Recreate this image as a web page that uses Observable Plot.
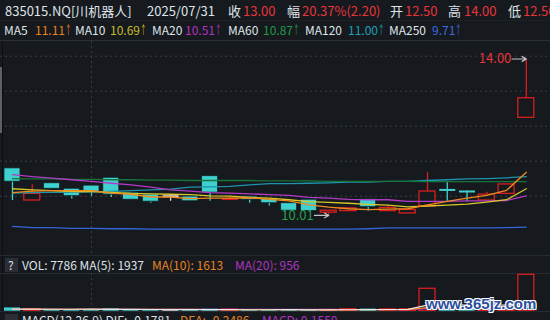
<!DOCTYPE html>
<html><head><meta charset="utf-8">
<script src="https://cdn.jsdelivr.net/npm/d3@7"></script>
<script src="https://cdn.jsdelivr.net/npm/@observablehq/plot@0.6"></script>
<style>
html,body{margin:0;padding:0;background:#161a1f;overflow:hidden}
#root{position:relative;width:550px;height:320px;background:#161a1f;font-family:"Noto Sans CJK SC","Noto Sans",sans-serif;overflow:hidden;color:#dfe3e8}
.t{position:absolute;white-space:nowrap;line-height:1}
.pane{position:absolute;left:0}
.arr{display:inline-block;width:5px;overflow:visible;transform:scaleX(0.55);transform-origin:left center}
svg{display:block}
</style></head>
<body><div id="root"></div>
<script>
// ---------- data ----------
const code = "835015.NQ[川机器人]";
const dates = ["2025/06/25","2025/06/26","2025/06/27","2025/06/30","2025/07/01","2025/07/02","2025/07/03","2025/07/04","2025/07/07","2025/07/08","2025/07/09","2025/07/10","2025/07/11","2025/07/14","2025/07/15","2025/07/16","2025/07/17","2025/07/18","2025/07/21","2025/07/22","2025/07/23","2025/07/24","2025/07/25","2025/07/28","2025/07/29","2025/07/30","2025/07/31"];
const open  = [11.21,10.39,10.83,10.69,10.77,10.97,10.59,10.54,10.50,10.49,11.01,10.39,10.49,10.43,10.32,10.41,10.08,10.12,10.42,10.12,10.06,10.24,10.67,10.63,10.39,10.56,12.50];
const high  = [11.21,10.79,10.83,10.69,10.77,10.97,10.59,10.54,10.50,10.49,11.01,10.49,10.49,10.43,10.32,10.41,10.13,10.19,10.42,10.26,10.15,11.10,10.87,10.63,10.60,10.80,14.00];
const low   = [10.39,10.39,10.69,10.43,10.50,10.47,10.41,10.32,10.37,10.37,10.37,10.39,10.32,10.25,10.13,10.12,10.01,10.12,10.12,10.12,10.06,10.24,10.37,10.35,10.39,10.56,12.50];
const close = [10.87,10.56,10.69,10.50,10.60,10.54,10.41,10.36,10.50,10.37,10.59,10.43,10.41,10.32,10.13,10.12,10.13,10.19,10.22,10.20,10.15,10.62,10.66,10.62,10.54,10.80,13.00];
const volume = [700,450,380,350,300,520,330,320,250,280,420,330,260,280,290,300,260,420,450,380,404,4791,650,420,380,449,7786];
const ma5   = [10.59,10.63,10.64,10.64,10.64,10.58,10.55,10.48,10.48,10.44,10.45,10.45,10.46,10.42,10.38,10.28,10.22,10.18,10.16,10.17,10.18,10.28,10.37,10.45,10.52,10.65,11.11];
const ma10  = [10.69,10.66,10.64,10.62,10.62,10.60,10.57,10.56,10.55,10.54,10.51,10.50,10.47,10.45,10.41,10.36,10.34,10.32,10.29,10.27,10.23,10.25,10.27,10.30,10.35,10.41,10.69];
const ma20  = [11.05,11.00,10.96,10.92,10.88,10.83,10.79,10.73,10.66,10.63,10.59,10.58,10.56,10.54,10.52,10.47,10.45,10.42,10.41,10.41,10.37,10.37,10.37,10.38,10.38,10.39,10.51];
const ma60  = [10.95,10.94,10.94,10.93,10.93,10.92,10.92,10.91,10.91,10.90,10.90,10.90,10.90,10.89,10.89,10.89,10.88,10.88,10.88,10.88,10.88,10.87,10.87,10.87,10.87,10.87,10.87];
const ma120 = [10.58,10.59,10.60,10.60,10.61,10.62,10.64,10.66,10.68,10.73,10.74,10.75,10.79,10.82,10.82,10.83,10.84,10.86,10.86,10.88,10.88,10.90,10.92,10.94,10.95,10.97,11.00];
const ma250 = [9.73,9.70,9.70,9.68,9.68,9.67,9.67,9.66,9.66,9.66,9.66,9.66,9.66,9.66,9.66,9.66,9.66,9.66,9.67,9.69,9.69,9.69,9.69,9.69,9.69,9.70,9.71];
const volMa5  = [450,430,420,420,436,400,376,364,344,340,320,320,308,314,316,292,278,310,344,362,383,1289,1335,1329,1329,1338,1937];
const volMa10 = [420,410,400,400,395,392,390,390,389,388,360,348,336,329,328,306,299,309,329,339,337,784,823,837,846,860,1613];
const volMa20 = [420,415,410,405,400,398,395,392,390,388,385,382,380,378,375,372,370,368,366,364,349,566,579,583,587,583,956];
const gridLevels = [10.5,11.393,12.286,13.179,14.071];
const monthStart = "2025/07/01";
const maNames = ["MA5","MA10","MA20","MA60","MA120","MA250"];
const maColors = ["#e8831e","#c9bd24","#b034c0","#1f9a46","#1fa0b6","#3a6ae0"];
const maLineColors = ["#ee8a1f","#d6c72a","#b23ac4","#17733a","#1e93ab","#3564d8"];

// ---------- helpers ----------
const RED = "#d81e1e", CYAN = "#3fd1cf", WHITE = "#d8d8d8", BG = "#161a1f";
const rows = dates.map((d, i) => ({
  i, date: d, open: open[i], high: high[i], low: low[i], close: close[i], volume: volume[i],
  ma5: ma5[i], ma10: ma10[i], ma20: ma20[i], ma60: ma60[i], ma120: ma120[i], ma250: ma250[i],
  vm5: volMa5[i], vm10: volMa10[i], vm20: volMa20[i]
}));
const col = d => d.close > d.open ? RED : d.close < d.open ? CYAN : WHITE;
const xDom = [-0.5, dates.length - 0.5];
const xRange = [2.1, 535.7];
const mIdx = dates.indexOf(monthStart);
const HW = 0.405;

const root = document.getElementById("root");
function txt(s, left, top, size, color) {
  const e = document.createElement("div");
  e.className = "t"; e.textContent = s;
  e.style.left = left + "px"; e.style.top = top + "px";
  e.style.fontSize = size + "px"; e.style.color = color;
  root.appendChild(e); return e;
}
function box(left, top, w, h, bg) {
  const e = document.createElement("div");
  e.style.cssText = `position:absolute;left:${left}px;top:${top}px;width:${w}px;height:${h}px;background:${bg}`;
  root.appendChild(e); return e;
}

// ---------- header ----------
const n = dates.length, last = rows[n - 1], prev = rows[n - 2];
const chg = last.close - prev.close;
const txtRed = "#e8343a", txtLight = "#dfe3e8";
box(0, 20, 550, 1, "#1d2127");
box(0, 40, 550, 1, "#2b2f36");
txt(code, 5, 4, 13, txtLight);
txt(last.date, 147, 4, 13, txtLight);
txt("收", 228, 4, 13, txtLight); txt(last.close.toFixed(2), 243, 4, 13, txtRed);
txt("幅", 287, 4, 13, txtLight); txt((chg / prev.close * 100).toFixed(2) + "%(" + chg.toFixed(2) + ")", 302, 4, 13, txtRed);
txt("开", 390, 4, 13, txtLight); txt(last.open.toFixed(2), 405, 4, 13, txtRed);
txt("高", 448, 4, 13, txtLight); txt(last.high.toFixed(2), 464, 4, 13, txtRed);
txt("低", 508, 4, 13, txtLight); txt(last.low.toFixed(2), 523, 4, 13, txtRed);

const maLast = [ma5, ma10, ma20, ma60, ma120, ma250].map(a => a[a.length - 1]);
const maLblX = [4, 75, 152, 228, 305, 389], maValX = [35, 110, 185, 263, 348, 432];
maNames.forEach((nm, k) => {
  txt(nm, maLblX[k], 24, 12, txtLight);
  const v = txt(maLast[k].toFixed(2), maValX[k], 24, 12, maColors[k]);
  const a = document.createElement("span");
  a.className = "arr"; a.textContent = "↑";
  v.appendChild(a);
});

// ---------- main price pane ----------
const mainTop = 41, mainH = 214;
const main = Plot.plot({
  width: 550, height: mainH, margin: 0,
  x: {domain: xDom, range: xRange, axis: null},
  y: {domain: [9.5, 14.5], range: [193.9, -2.1], axis: null},
  style: {background: "transparent", overflow: "visible"},
  marks: [
    Plot.ruleY(gridLevels, {stroke: "#3a3e46", strokeDasharray: "2,3", strokeWidth: 1}),
    Plot.ruleX([mIdx], {stroke: "#3a3e46", strokeDasharray: "2,3", strokeWidth: 1}),
    Plot.ruleX(rows, {x: "i", y1: "low", y2: "high", stroke: col, strokeWidth: 1.3}),
    Plot.rect(rows.filter(d => Math.abs(d.close - d.open) >= 0.04), {
      x1: d => d.i - HW, x2: d => d.i + HW,
      y1: d => Math.min(d.open, d.close), y2: d => Math.max(d.open, d.close),
      fill: d => d.close > d.open ? BG : col(d),
      stroke: d => d.close > d.open ? RED : "#0e2224",
      strokeWidth: d => d.close > d.open ? 1.3 : 0.8
    }),
    Plot.link(rows.filter(d => Math.abs(d.close - d.open) < 0.04), {
      x1: d => d.i - HW, x2: d => d.i + HW, y1: "close", y2: "close", stroke: col, strokeWidth: 2
    }),
    Plot.line(rows, {x: "i", y: "ma250", stroke: maLineColors[5], strokeWidth: 1.3}),
    Plot.line(rows, {x: "i", y: "ma120", stroke: maLineColors[4], strokeWidth: 1.3}),
    Plot.line(rows, {x: "i", y: "ma60", stroke: maLineColors[3], strokeWidth: 1.3}),
    Plot.line(rows, {x: "i", y: "ma20", stroke: maLineColors[2], strokeWidth: 1.3}),
    Plot.line(rows, {x: "i", y: "ma10", stroke: maLineColors[1], strokeWidth: 1.3}),
    Plot.line(rows, {x: "i", y: "ma5", stroke: maLineColors[0], strokeWidth: 1.3}),
    // high / low markers
    Plot.arrow([d3.greatest(rows, d => d.high)], {x1: d => d.i - 0.72, x2: "i", y1: "high", y2: "high", stroke: "#c4c4c4", strokeWidth: 1.2, headLength: 6, inset: 0}),
    Plot.text([d3.greatest(rows, d => d.high)], {x: "i", y: "high", text: d => d.high.toFixed(2), textAnchor: "end", dx: -15, fill: txtRed, fontSize: 13, fontFamily: "Noto Sans CJK SC"}),
    Plot.arrow([d3.least(rows, d => d.low)], {x1: d => d.i - 0.72, x2: "i", y1: "low", y2: "low", stroke: "#c4c4c4", strokeWidth: 1.2, headLength: 6, inset: 0}),
    Plot.text([d3.least(rows, d => d.low)], {x: "i", y: "low", text: d => d.low.toFixed(2), textAnchor: "end", dx: -15, fill: "#27a04c", fontSize: 13, fontFamily: "Noto Sans CJK SC"})
  ]
});
const mp = document.createElement("div"); mp.className = "pane";
mp.style.top = mainTop + "px"; mp.appendChild(main); root.appendChild(mp);

// left border + scroll handle
box(2, 41, 1, 270, "#0b0d10");
box(0, 67, 2, 66, "#5c6069");

// ---------- volume pane ----------
box(0, 255, 550, 1, "#262a31");
box(0, 273, 550, 1, "#262a31");
box(5, 258, 13, 14, "#2b2e35");
txt("?", 8, 259, 12, txtLight);
txt("VOL: " + last.volume + " MA(5): " + volMa5[n - 1], 22, 259, 12, txtLight);
txt("MA(10): " + volMa10[n - 1], 152, 259, 12, maColors[0]);
txt("MA(20): " + volMa20[n - 1], 235, 259, 12, maColors[2]);

const vol = Plot.plot({
  width: 550, height: 38, margin: 0,
  x: {domain: xDom, range: xRange, axis: null},
  y: {domain: [0, d3.max(volume)], range: [37.7, 1.3], axis: null},
  style: {background: "transparent", overflow: "visible"},
  marks: [
    Plot.ruleX([mIdx], {stroke: "#3a3e46", strokeDasharray: "2,3"}),
    Plot.rect(rows, {
      x1: d => d.i - HW, x2: d => d.i + HW, y1: 0, y2: "volume",
      fill: d => d.close > d.open ? "none" : col(d), stroke: col, strokeWidth: d => d.close > d.open ? 1.3 : 0
    }),
    Plot.line(rows, {x: "i", y: "vm20", stroke: maLineColors[2], strokeWidth: 1.2}),
    Plot.line(rows, {x: "i", y: "vm10", stroke: maLineColors[0], strokeWidth: 1.2}),
    Plot.line(rows, {x: "i", y: "vm5", stroke: "#e8e8e8", strokeWidth: 1.2})
  ]
});
const vp = document.createElement("div"); vp.className = "pane";
vp.style.top = "273px"; vp.appendChild(vol); root.appendChild(vp);

// ---------- MACD label row (cut off) ----------
box(0, 311, 550, 1, "#262a31");
box(5, 314, 13, 14, "#2b2e35");
txt("MACD(12,26,9) DIF: -0.1781", 22, 314, 12, txtLight);
txt("DEA: -0.2486", 180, 314, 12, maColors[0]);
txt("MACD: 0.1550", 262, 314, 12, maColors[2]);

// watermark
const wm = txt("www.365jz.com", 426, 296, 15, "#2c4f9e");
wm.style.fontWeight = "bold";
wm.style.fontFamily = "'Liberation Sans', sans-serif";
wm.style.textShadow = "1px 1px 0 #fff,-1px -1px 0 #fff,1px -1px 0 #fff,-1px 1px 0 #fff";
</script></body></html>
